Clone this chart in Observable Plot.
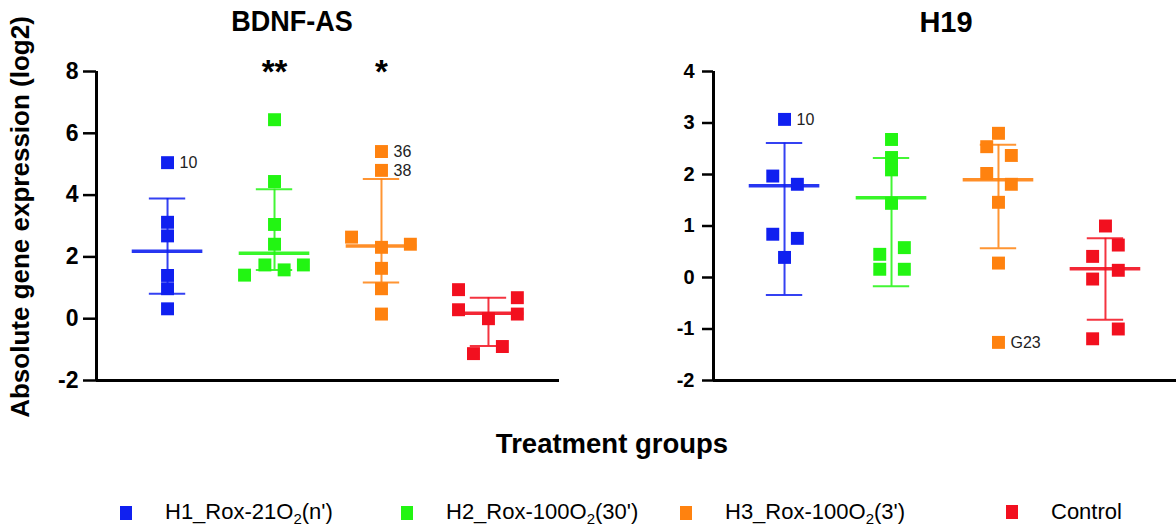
<!DOCTYPE html>
<html>
<head>
<meta charset="utf-8">
<script src="https://cdn.jsdelivr.net/npm/d3@7"></script>
<script src="https://cdn.jsdelivr.net/npm/@observablehq/plot@0.6"></script>
<style>
  html, body { margin: 0; padding: 0; background: #fff; }
  #root { position: relative; width: 1176px; height: 529px; overflow: hidden; font-family: "Liberation Sans", Arial, sans-serif; }
  .abs { position: absolute; }
  .title { font-weight: bold; white-space: nowrap; line-height: 1; color: #000; }
  .leg { position: absolute; display: flex; align-items: center; font-size: 22px; white-space: nowrap; color: #000; }
  .sw { width: 12px; height: 14px; display: inline-block; }
</style>
</head>
<body>
<div id="root"></div>
<script>
// ---------- data ----------
const groups = ["H1_Rox-21O2(n')", "H2_Rox-100O2(30')", "H3_Rox-100O2(3')", "Control"];
const groupColors = ["#1020f0", "#22f512", "#ff820f", "#f2101f"];

// BDNF-AS
const bdnfGroup  = [1,1,1,1,1,1, 2,2,2,2,2,2,2,2, 3,3,3,3,3,3,3,3, 4,4,4,4,4,4,4];
const bdnfValue  = [5.05,3.12,2.68,1.40,0.97,0.32, 6.44,4.44,3.05,2.41,1.74,1.41,1.58,1.74, 5.41,4.80,2.64,2.31,2.41,1.63,0.97,0.15, 0.94,0.68,0.29,0.15,0.00,-0.90,-1.13];
const bdnfJitter = [0,0,0,0,0,0, 0,0,0,0,-0.09,-0.28,0.09,0.27, 0,0,-0.28,0,0.27,0,0,0, -0.28,0.27,-0.28,0.27,0,0.13,-0.14];
const bdnfLabel  = ["10","","","","","", "","","","","","","","", "36","38","","","","","","", "","","","","","",""];
const bdnfMean   = [2.18, 2.12, 2.35, 0.18];
const bdnfLow    = [0.81, 1.58, 1.17, -0.88];
const bdnfHigh   = [3.89, 4.19, 4.52, 0.68];
const bdnfStars  = ["", "**", "*", ""];
const bdnfTicks  = [-2, 0, 2, 4, 6, 8];

// H19
const h19Group  = [1,1,1,1,1,1, 2,2,2,2,2,2,2,2, 3,3,3,3,3,3,3,3, 4,4,4,4,4,4,4];
const h19Value  = [3.07,1.97,1.81,0.84,0.76,0.39, 2.68,2.33,2.09,1.44,0.45,0.58,0.16,0.16, 2.80,2.54,2.37,2.02,1.81,1.46,0.28,-1.26, 1.00,0.63,0.41,0.14,-0.03,-1.00,-1.19];
const h19Jitter = [0,-0.11,0.12,-0.11,0.12,0, 0,0,0,0,-0.11,0.12,-0.11,0.12, 0,-0.11,0.12,-0.11,0.12,0,0,0, 0,0.12,-0.12,0.12,-0.12,0.12,-0.12];
const h19Label  = ["10","","","","","", "","","","","","","","", "","","","","","","","G23", "","","","","","",""];
const h19Mean   = [1.78, 1.55, 1.90, 0.17];
const h19Low    = [-0.34, -0.17, 0.57, -0.82];
const h19High   = [2.61, 2.32, 2.58, 0.76];
const h19Stars  = ["", "", "", ""];
const h19Ticks  = [-2, -1, 0, 1, 2, 3, 4];

const yLabel = "Absolute gene expression (log2)";
const xTitle = "Treatment groups";
const panelTitles = ["BDNF-AS", "H19"];

// ---------- drawing ----------
const xDomain = [0.336, 4.664];

function panel({gArr, vArr, jArr, lArr, mean, low, high, stars, ticks, withYLabel, tickFont, tickSize, tickPadding, labelFont}) {
  const pts = vArr.map((v, i) => ({g: gArr[i], x: gArr[i] + jArr[i], v, label: lArr[i]}));
  const sum = mean.map((m, i) => ({g: i + 1, name: groups[i], mean: m, low: low[i], high: high[i], star: stars[i]}));
  const yMin = ticks[0], yMax = ticks[ticks.length - 1];
  const marks = [
    Plot.ruleX(sum, {x: "g", y1: "low", y2: "high", stroke: "name", strokeWidth: 2, strokeOpacity: 0.85}),
    Plot.ruleY(sum, {y: "high", x1: d => d.g - 0.17, x2: d => d.g + 0.17, stroke: "name", strokeWidth: 2, strokeOpacity: 0.85}),
    Plot.ruleY(sum, {y: "low", x1: d => d.g - 0.17, x2: d => d.g + 0.17, stroke: "name", strokeWidth: 2, strokeOpacity: 0.85}),
    Plot.ruleY(sum, {y: "mean", x1: d => d.g - 0.33, x2: d => d.g + 0.33, stroke: "name", strokeWidth: 3.5, strokeOpacity: 0.9}),
    Plot.dot(pts, {x: "x", y: "v", symbol: "square", r: 7.3, fill: d => groups[d.g - 1], stroke: "none"}),
    Plot.text(pts.filter(d => d.label), {x: "x", y: "v", text: "label", textAnchor: "start", dx: 12, fontSize: labelFont, fill: "#222"}),
    Plot.text(sum.filter(d => d.star), {x: "g", y: yMax, text: "star", fontSize: 33, fontWeight: "bold", dy: 1, fill: "#000"}),
    Plot.ruleY([yMin], {strokeWidth: 3, stroke: "#000"}),
    Plot.ruleX([xDomain[0]], {y1: yMin, y2: yMax, strokeWidth: 3, stroke: "#000"}),
    Plot.axisY({ticks, tickSize, tickPadding, tickFormat: d => String(d), fontSize: tickFont, fontWeight: "bold", strokeWidth: 2.5, label: null, fill: "#000", stroke: "#000"})
  ];
  if (withYLabel) {
    marks.push(Plot.text([yLabel], {frameAnchor: "left", textAnchor: "middle", rotate: -90, dx: -76, dy: -9, fontSize: 26, fontWeight: "bold", fill: "#000"}));
  }
  return Plot.plot({
    width: 560, height: 400,
    marginLeft: 96, marginRight: 1, marginTop: 71, marginBottom: 20,
    style: {fontFamily: "'Liberation Sans', Arial, sans-serif", background: "transparent", overflow: "visible"},
    x: {domain: xDomain, axis: null},
    y: {domain: [yMin, yMax]},
    color: {domain: groups, range: groupColors},
    marks
  });
}

const root = document.getElementById("root");

const left = panel({gArr: bdnfGroup, vArr: bdnfValue, jArr: bdnfJitter, lArr: bdnfLabel, mean: bdnfMean, low: bdnfLow, high: bdnfHigh, stars: bdnfStars, ticks: bdnfTicks, withYLabel: true, tickFont: 23, tickSize: 13, tickPadding: 5, labelFont: 16});
left.style.position = "absolute"; left.style.left = "0px"; left.style.top = "0px";
root.appendChild(left);

const right = panel({gArr: h19Group, vArr: h19Value, jArr: h19Jitter, lArr: h19Label, mean: h19Mean, low: h19Low, high: h19High, stars: h19Stars, ticks: h19Ticks, withYLabel: false, tickFont: 20, tickSize: 11, tickPadding: 8, labelFont: 16});
right.style.position = "absolute"; right.style.left = "617px"; right.style.top = "0px";
root.appendChild(right);

// titles
const titleCfg = [{x: 292, y: 8, size: 27, sy: 1.12}, {x: 946, y: 8, size: 29, sy: 1.0}];
panelTitles.forEach((t, i) => {
  const c = titleCfg[i];
  const d = document.createElement("div");
  d.className = "abs title";
  d.style.left = c.x + "px";
  d.style.top = c.y + "px";
  d.style.fontSize = c.size + "px";
  d.style.transform = `translateX(-50%) scaleY(${c.sy})`;
  d.textContent = t;
  root.appendChild(d);
});

// x title
const xt = document.createElement("div");
xt.className = "abs title";
xt.style.fontSize = "27.5px";
xt.style.left = "612px";
xt.style.top = "430px";
xt.style.transform = "translateX(-50%)";
xt.textContent = xTitle;
root.appendChild(xt);

// legend
const legLeft = [120, 401, 680, 1006];
groups.forEach((g, i) => {
  const item = document.createElement("div");
  item.className = "leg";
  item.style.left = legLeft[i] + "px";
  item.style.top = "499px";
  const sw = document.createElement("span");
  sw.className = "sw";
  sw.style.background = groupColors[i];
  sw.style.marginRight = "33px";
  const lab = document.createElement("span");
  lab.innerHTML = g.replace("O2", "O<sub style='font-size:15px'>2</sub>");
  item.appendChild(sw);
  item.appendChild(lab);
  root.appendChild(item);
});
</script>
</body>
</html>
